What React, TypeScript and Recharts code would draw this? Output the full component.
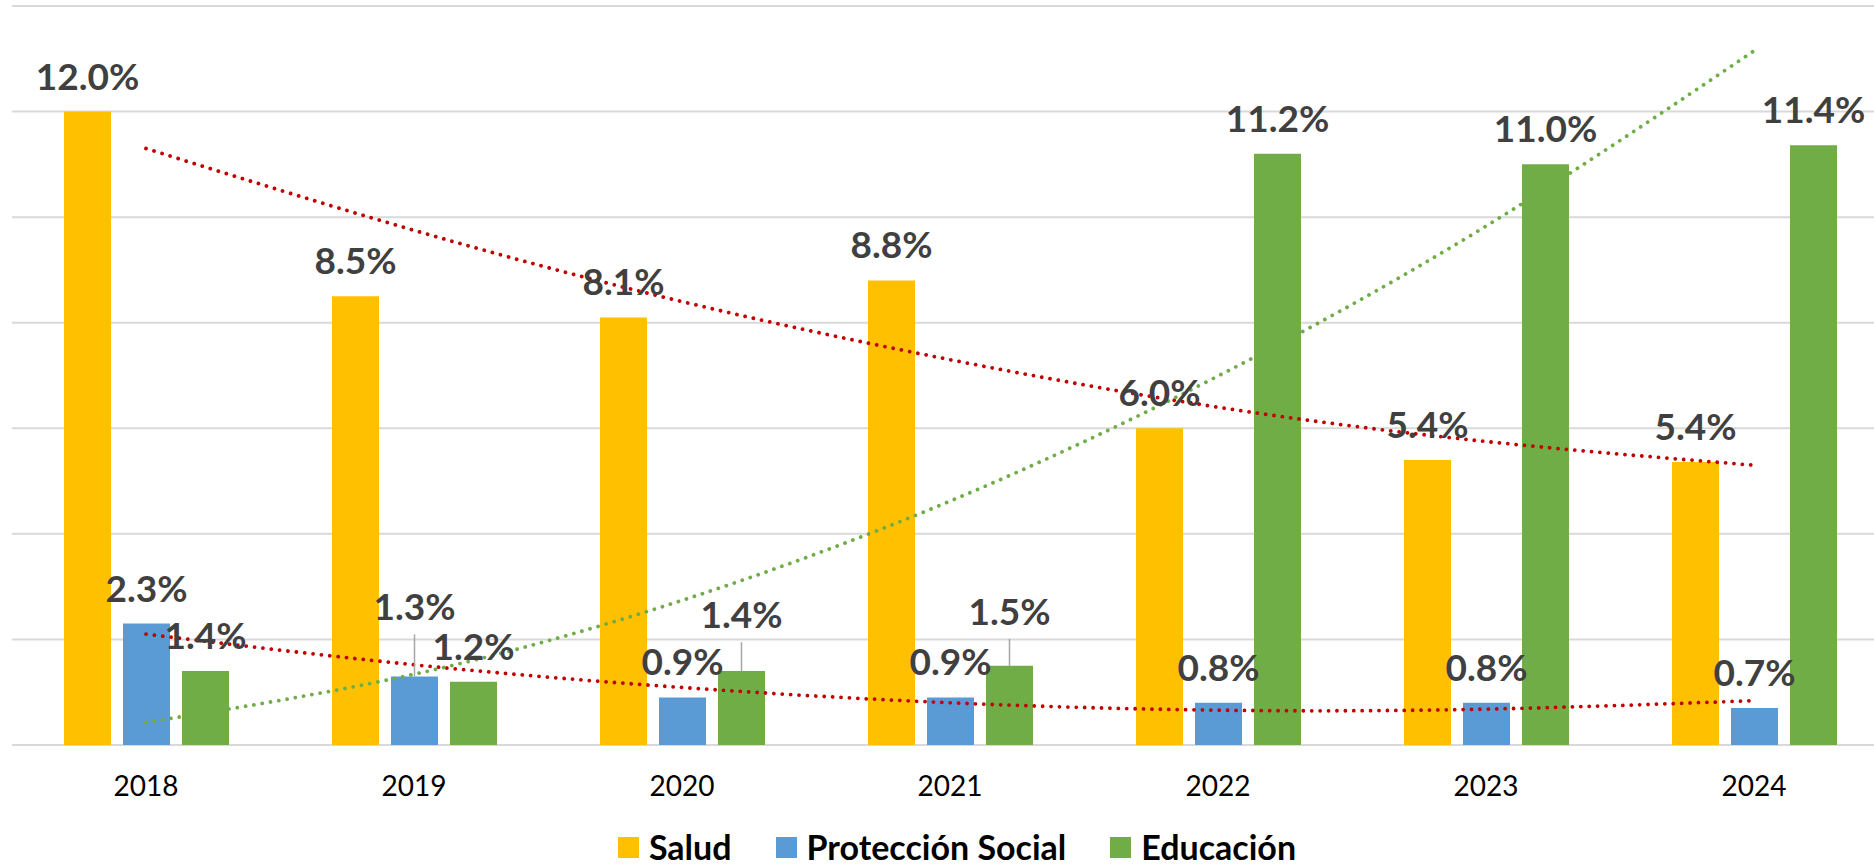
import {
  ComposedChart,
  Bar,
  Line,
  XAxis,
  YAxis,
  CartesianGrid,
  LabelList,
  Legend,
} from "recharts";

const years = ["2018", "2019", "2020", "2021", "2022", "2023", "2024"];
const salud = [12.0, 8.5, 8.1, 8.8, 6.0, 5.4, 5.36];
const proteccion = [2.3, 1.3, 0.9, 0.9, 0.8, 0.8, 0.7];
const educacion = [1.4, 1.2, 1.4, 1.5, 11.2, 11.0, 11.36];

// dotted trend lines
const saludTrend = [11.3, 9.75, 8.4, 7.3, 6.4, 5.75, 5.3];
const proteccionTrend = [2.1, 1.52, 1.09, 0.8, 0.66, 0.68, 0.84];
const educacionTrend = [0.43, 1.34, 2.74, 4.62, 6.99, 9.83, 13.15];

const yTicks = [0, 2, 4, 6, 8, 10, 12, 14];

// extra lift (px) for labels that were dragged up, with a leader line
const noLift = [0, 0, 0, 0, 0, 0, 0];
const proteccionLift = [0, 34, 0, 0, 0, 0, 0];
const educacionLift = [0, 0, 21, 19, 0, 0, 0];

const series = [
  { key: "salud", name: "Salud", color: "#FFC000" },
  { key: "proteccion", name: "Protección Social", color: "#5B9BD5" },
  { key: "educacion", name: "Educación", color: "#70AD47" },
];

const data = years.map((year, i) => ({
  year,
  salud: salud[i],
  proteccion: proteccion[i],
  educacion: educacion[i],
  saludTrend: saludTrend[i],
  proteccionTrend: proteccionTrend[i],
  educacionTrend: educacionTrend[i],
}));

const FONT = "Lato, 'Open Sans', sans-serif";

const makeLabel = (lifts: number[]) => (props: any) => {
  const { x, y, width, value, index } = props;
  const cx = Number(x) + Number(width) / 2;
  const lift = lifts[index] || 0;
  const base = Number(y) - 22 - lift;
  return (
    <g>
      {lift > 0 && (
        <line x1={cx} y1={base + 14} x2={cx} y2={Number(y)} stroke="#A6A6A6" strokeWidth={1.5} />
      )}
      <text
        x={cx}
        y={base}
        textAnchor="middle"
        fill="#404040"
        fontSize={37}
        fontWeight={700}
        fontFamily={FONT}
      >
        {`${Number(value).toFixed(1)}%`}
      </text>
    </g>
  );
};

const renderLegend = () => (
  <div
    style={{
      display: "flex",
      justifyContent: "center",
      alignItems: "flex-end",
      height: 61,
      paddingLeft: 14,
      boxSizing: "border-box",
      paddingBottom: 8,
    }}
  >
    {series.map((s, i) => (
      <div
        key={s.key}
        style={{
          display: "flex",
          alignItems: "center",
          height: 22,
          marginLeft: i === 0 ? 0 : 44,
        }}
      >
        <span style={{ width: 21, height: 21, background: s.color, marginRight: 10 }} />
        <span
          style={{
            fontFamily: FONT,
            fontWeight: 700,
            fontSize: 34,
            lineHeight: "22px",
            color: "#000",
            whiteSpace: "nowrap",
          }}
        >
          {s.name}
        </span>
      </div>
    ))}
  </div>
);

const trendProps = {
  type: "natural" as const,
  strokeWidth: 3.8,
  strokeDasharray: "0.01 8.4",
  strokeLinecap: "round" as const,
  dot: false,
  activeDot: false,
  legendType: "none" as const,
  isAnimationActive: false,
};

export default function App() {
  return (
    <div
      style={{
        position: "absolute",
        left: 0,
        top: 0,
        width: 1874,
        height: 866,
        overflow: "hidden",
        background: "#fff",
        fontFamily: FONT,
      }}
    >
      <ComposedChart
        width={1890}
        height={866}
        data={data}
        margin={{ top: 6, right: 2, left: 12, bottom: 0 }}
        barSize={47}
        barGap={12}
      >
        <CartesianGrid vertical={false} stroke="#D9D9D9" strokeWidth={2} />
        <XAxis
          dataKey="year"
          axisLine={false}
          tickLine={false}
          height={60}
          tickMargin={25}
          tick={{ fill: "#000", fontSize: 28, fontFamily: FONT }}
        />
        <YAxis hide domain={[0, 14]} ticks={yTicks} />
        <Legend verticalAlign="bottom" height={61} content={renderLegend} />
        <Bar dataKey="salud" name="Salud" fill="#FFC000" isAnimationActive={false}>
          <LabelList dataKey="salud" content={makeLabel(noLift)} />
        </Bar>
        <Bar dataKey="proteccion" name="Protección Social" fill="#5B9BD5" isAnimationActive={false}>
          <LabelList dataKey="proteccion" content={makeLabel(proteccionLift)} />
        </Bar>
        <Bar dataKey="educacion" name="Educación" fill="#70AD47" isAnimationActive={false}>
          <LabelList dataKey="educacion" content={makeLabel(educacionLift)} />
        </Bar>
        <Line dataKey="saludTrend" stroke="#C00000" {...trendProps} />
        <Line dataKey="proteccionTrend" stroke="#C00000" {...trendProps} />
        <Line dataKey="educacionTrend" stroke="#70AD47" {...trendProps} />
      </ComposedChart>
    </div>
  );
}
